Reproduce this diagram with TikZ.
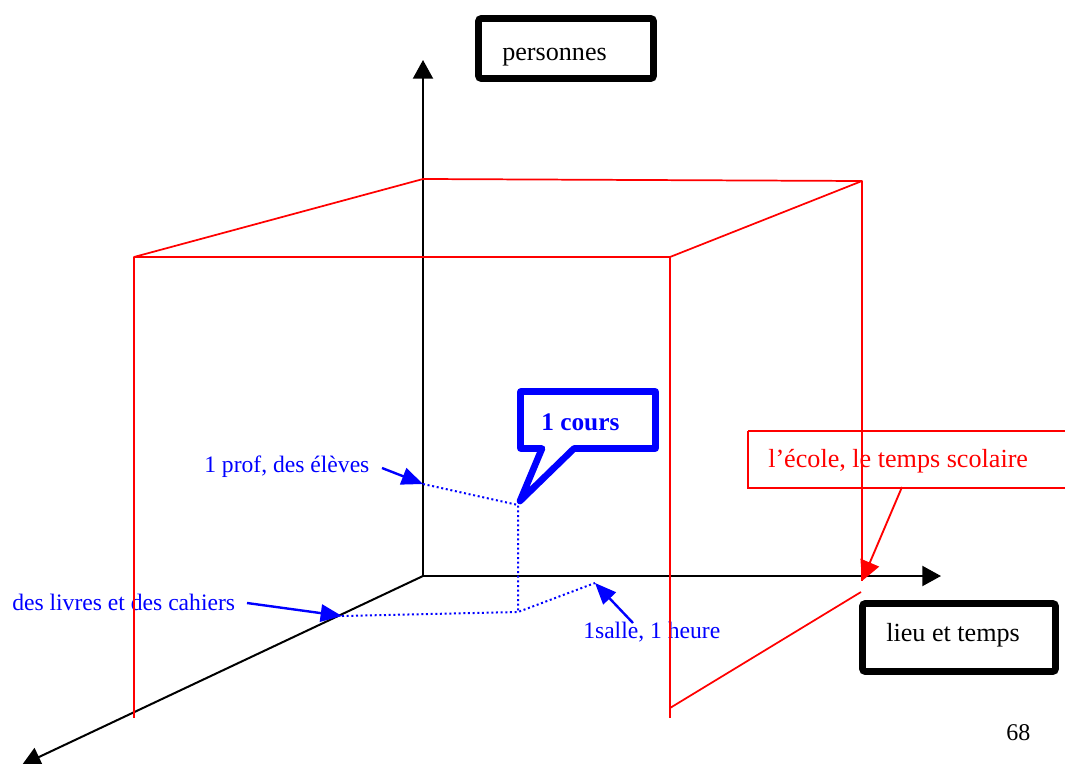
\documentclass[tikz,border=0pt]{standalone}
\usepackage{fontspec}
\setmainfont{Liberation Serif}
\usetikzlibrary{arrows.meta}
\begin{document}
\begin{tikzpicture}[x=0.75pt,y=-0.75pt,
  axis/.style={black,line width=1.5pt,-{Triangle[length=14pt,width=15pt]}},
  cube/.style={red,line width=1.3pt,line join=round},
  bluearr/.style={blue,line width=1.8pt,-{Triangle[length=16pt,width=13pt]}},
  redarr/.style={red,line width=1.4pt,-{Triangle[length=15pt,width=15pt]}},
  dots/.style={blue,line width=1.5pt,dotted},
  blab/.style={blue,anchor=base west,inner sep=0pt,font=\fontsize{17.7}{20}\selectfont},
  boxlab/.style={anchor=base west,inner sep=0pt,font=\fontsize{19.6}{22}\selectfont},
  tbox/.style={draw=black,line width=5pt,rounded corners=2pt}]
\useasboundingbox (0,0) rectangle (1065,764);
\fill[white] (0,0) rectangle (1065,764);

% points
\coordinate (O) at (423,576);
\coordinate (Ytip) at (423,60);
\coordinate (Xtip) at (941,576);
\coordinate (Ztip) at (22,765);
\coordinate (Pprof) at (423,484);
\coordinate (Pc) at (518,505);
\coordinate (Pf) at (518,612);
\coordinate (Pl) at (342,616);
\coordinate (Ps) at (595,583);

% axes
\draw[axis] (O) -- (Ytip);
\draw[axis] (O) -- (Xtip);
\draw[axis] (O) -- (Ztip);

% dotted projections
\draw[dots] (Pprof) -- (Pc) -- (Pf);
\draw[dots] (Pl) -- (Pf) -- (Ps);

% boxes
\draw[tbox] (478.5,18.5) rectangle (653.5,78.5);
\node[boxlab] (pers) at (502,60) {personnes};
\draw[tbox] (862.5,603.5) rectangle (1055.5,671.5);
\node[boxlab] (lieu) at (886,641) {lieu et temps};
\draw[red,line width=1.3pt] (748,431) -- (1070,431) (748,431) -- (748,488) -- (1070,488);
\node[boxlab,red] (ecole) at (768,467) {l’école, le temps scolaire};

% callout
\draw[blue,line width=5pt,fill=white,line join=round]
  (520.5,391.5) -- (655.5,391.5) -- (655.5,448.5) -- (574,448.5) -- (520,501)
  -- (542,448.5) -- (520.5,448.5) -- cycle;
\node[anchor=base west,inner sep=0pt,blue,font=\fontsize{19}{21}\selectfont\bfseries] (cours) at (541,430) {1 cours};

% blue labels
\node[blab] (prof) at (204,472) {1 prof, des élèves};
\node[blab] (livres) at (12,610) {des livres et des cahiers};
\node[blab] (salle) at (583,638) {1salle, 1 heure};
\coordinate (Aprof) at (382,468);
\coordinate (Alivres) at (247,603);
\coordinate (Asalle) at (633,623);
\draw[bluearr] (Aprof) -- (Pprof);
\draw[bluearr] (Alivres) -- (Pl);
\draw[bluearr] (Asalle) -- (Ps);

% red cube
\coordinate (BL) at (423,179);
\coordinate (BR) at (862,181);
\coordinate (FL) at (134,257);
\coordinate (FR) at (670,257);
\draw[cube] (FL) -- (BL) -- (BR) -- (FR) -- cycle;
\draw[cube] (FL) -- (134,718);
\draw[cube] (FR) -- (670,718);
\draw[cube] (BR) -- (862,581);
\draw[cube] (670,708) -- (861,592);

% red arrow
\coordinate (Ea) at (902,487);
\coordinate (Et) at (862,581);
\draw[redarr] (Ea) -- (Et);

% page number
\node[boxlab,font=\fontsize{18}{20}\selectfont] (num) at (1006,740) {68};
\end{tikzpicture}
\end{document}
